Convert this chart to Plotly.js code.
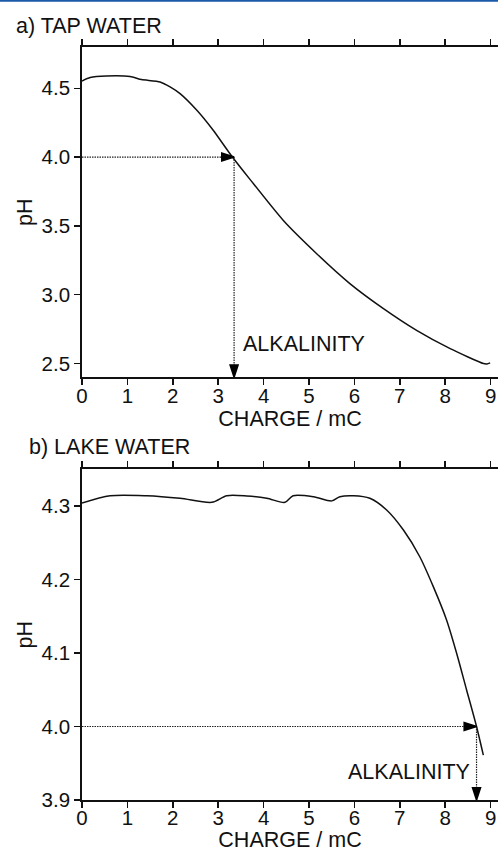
<!DOCTYPE html>
<html>
<head>
<meta charset="utf-8">
<script src="https://cdn.plot.ly/plotly-3.0.1.min.js"></script>
<style>
html,body{margin:0;padding:0;background:#fff;}
#chart{width:498px;height:852px;}
</style>
</head>
<body>
<div id="chart"></div>
<script>
// a) Tap water titration curve
var tapCharge = [0, 0.18, 0.54, 1.06, 1.31, 1.72, 1.94, 2.16, 2.53, 2.89, 3.30, 3.70, 4.43, 5.17, 5.90, 6.64, 7.37, 8.11, 8.84, 8.92, 8.99];
var tapPH     = [4.553, 4.578, 4.589, 4.585, 4.563, 4.546, 4.51, 4.461, 4.34, 4.195, 4.006, 3.838, 3.541, 3.298, 3.081, 2.899, 2.741, 2.608, 2.50, 2.497, 2.505];

// b) Lake water titration curve
var lakeCharge = [0, 0.62, 1.42, 2.16, 2.86, 3.19, 3.63, 4.07, 4.47, 4.65, 5.10, 5.50, 5.68, 5.98, 6.34, 6.71, 7.08, 7.44, 7.74, 8.03, 8.25, 8.47, 8.69, 8.84];
var lakePH     = [4.304, 4.314, 4.314, 4.3105, 4.305, 4.314, 4.3136, 4.3105, 4.305, 4.314, 4.3127, 4.307, 4.3127, 4.314, 4.3105, 4.2946, 4.2673, 4.231, 4.190, 4.145, 4.100, 4.050, 4.000, 3.961];

// end point and alkalinity readings
var endpointPH = 4.0;
var alkalinityTap = 3.35;
var alkalinityLake = 8.69;

// axis ranges and ticks
var xRange = [0, 9.163];
var tapRange = [2.4, 4.8];
var lakeRange = [3.9, 4.35];
var tapTicks = [2.5, 3.0, 3.5, 4.0, 4.5];
var lakeTicks = [3.9, 4.0, 4.1, 4.2, 4.3];
var chargeTicks = [0, 1, 2, 3, 4, 5, 6, 7, 8, 9];

var FONT = 'Liberation Sans, Arial, sans-serif';
var INK = '#111';
var TICK_SIZE = 20.5;
var TEXT_SIZE = 21.5;

function guideTrace(xs, ys, xa, ya) {
  return {
    x: xs, y: ys, xaxis: xa, yaxis: ya, mode: 'lines',
    line: {color: '#222', width: 1.2, dash: '1.5px,1px'},
    hoverinfo: 'skip', showlegend: false
  };
}
function headTrace(x, y, angle, xa, ya) {
  return {
    x: [x], y: [y], xaxis: xa, yaxis: ya, mode: 'markers',
    marker: {symbol: 'arrow', size: 13, angle: angle, color: '#000',
             line: {color: '#000', width: 1.5}},
    hoverinfo: 'skip', showlegend: false
  };
}

var data = [
  {x: tapCharge, y: tapPH, xaxis: 'x', yaxis: 'y', mode: 'lines',
   line: {color: INK, width: 1.5, shape: 'spline', smoothing: 0.6}, showlegend: false},
  guideTrace([0, alkalinityTap], [endpointPH, endpointPH], 'x', 'y'),
  guideTrace([alkalinityTap, alkalinityTap], [endpointPH, tapRange[0]], 'x', 'y'),
  headTrace(alkalinityTap, endpointPH, 90, 'x', 'y'),
  headTrace(alkalinityTap, tapRange[0], 180, 'x', 'y'),

  {x: lakeCharge, y: lakePH, xaxis: 'x2', yaxis: 'y2', mode: 'lines',
   line: {color: INK, width: 1.5, shape: 'spline', smoothing: 0.8}, showlegend: false},
  guideTrace([0, alkalinityLake], [endpointPH, endpointPH], 'x2', 'y2'),
  guideTrace([alkalinityLake, alkalinityLake], [endpointPH, lakeRange[0]], 'x2', 'y2'),
  headTrace(alkalinityLake, endpointPH, 90, 'x2', 'y2'),
  headTrace(alkalinityLake, lakeRange[0], 180, 'x2', 'y2')
];

function xAxis(anchor) {
  return {
    anchor: anchor, domain: [0, 1], range: xRange,
    tickmode: 'array', tickvals: chargeTicks, ticktext: chargeTicks.map(String),
    ticks: 'outside', ticklen: 6, tickwidth: 1.5, tickcolor: INK,
    ticklabelstandoff: -7,
    showline: true, linecolor: INK, linewidth: 1.8, mirror: 'ticks',
    showgrid: false, zeroline: false,
    tickfont: {family: FONT, size: TICK_SIZE, color: INK},
    title: {text: 'CHARGE / mC', font: {family: FONT, size: TEXT_SIZE, color: INK}, standoff: 2}
  };
}
function yAxis(anchor, domain, range, ticks) {
  return {
    anchor: anchor, domain: domain, range: range,
    tickmode: 'array', tickvals: ticks, ticktext: ticks.map(function(v){return v.toFixed(1);}),
    ticks: 'outside', ticklen: 6, tickwidth: 1.5, tickcolor: INK,
    showline: true, linecolor: INK, linewidth: 1.8, mirror: false,
    showgrid: false, zeroline: false,
    tickfont: {family: FONT, size: TICK_SIZE, color: INK},
    title: {text: 'pH', font: {family: FONT, size: TEXT_SIZE, color: INK}, standoff: 3}
  };
}

// plot area: 852 - 52 (bottom margin) = 800 px tall
var layout = {
  width: 498, height: 852,
  margin: {l: 82, r: 0, t: 0, b: 52},
  paper_bgcolor: '#fff', plot_bgcolor: '#fff',
  font: {family: FONT, color: INK},
  xaxis: xAxis('y'),
  yaxis: yAxis('x', [0.5284, 0.9413], tapRange, tapTicks),
  xaxis2: xAxis('y2'),
  yaxis2: yAxis('x2', [0, 0.4134], lakeRange, lakeTicks),
  annotations: [
    {text: 'a) TAP WATER', xref: 'paper', yref: 'paper', x: -0.163, y: 0.9675,
     xanchor: 'left', yanchor: 'middle', showarrow: false, font: {family: FONT, size: TEXT_SIZE, color: INK}},
    {text: 'b) LAKE WATER', xref: 'paper', yref: 'paper', x: -0.1315, y: 0.4416,
     xanchor: 'left', yanchor: 'middle', showarrow: false, font: {family: FONT, size: TEXT_SIZE, color: INK}},
    {text: 'ALKALINITY', xref: 'x', yref: 'y', x: 3.5, y: 2.64,
     xanchor: 'left', yanchor: 'middle', showarrow: false, font: {family: FONT, size: TEXT_SIZE, color: INK}},
    {text: 'ALKALINITY', xref: 'x2', yref: 'y2', x: 8.58, y: 3.9385,
     xanchor: 'right', yanchor: 'middle', showarrow: false, font: {family: FONT, size: TEXT_SIZE, color: INK}}
  ],
  shapes: [
    {type: 'line', xref: 'paper', yref: 'paper', x0: -0.2, x1: 1, y0: 0.9991, y1: 0.9991,
     line: {color: '#1a5aa8', width: 2}}
  ]
};

Plotly.newPlot('chart', data, layout, {staticPlot: true, displayModeBar: false});
</script>
</body>
</html>
